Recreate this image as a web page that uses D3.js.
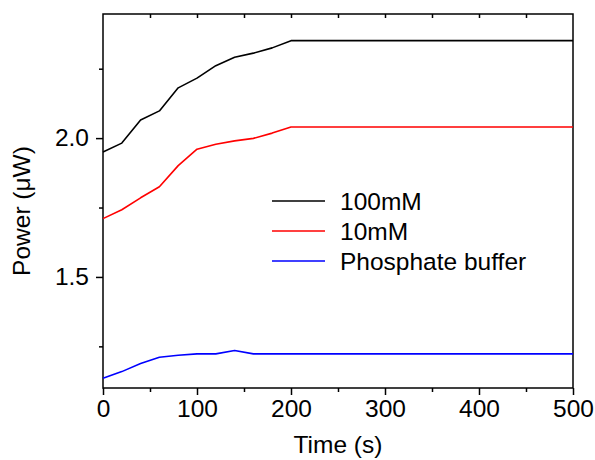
<!DOCTYPE html>
<html>
<head>
<meta charset="utf-8">
<script src="https://cdn.jsdelivr.net/npm/d3@7"></script>
<style>
  body { margin: 0; background: #fff; }
  text { font-family: Arial, "Liberation Sans", sans-serif; fill: #000; }
</style>
</head>
<body>
<div id="chart"></div>
<script>
const times = [0, 20, 40, 60, 80, 100, 120, 140, 160, 180, 200, 500];
const mM100 = [1.950, 1.982, 2.065, 2.098, 2.181, 2.216, 2.261, 2.291, 2.306, 2.325, 2.351, 2.351];
const mM10 = [1.710, 1.742, 1.785, 1.825, 1.901, 1.960, 1.978, 1.990, 1.999, 2.018, 2.040, 2.040];
const buffer = [1.135, 1.159, 1.188, 1.211, 1.218, 1.223, 1.223, 1.235, 1.223, 1.223, 1.223, 1.223];
const seriesNames = ["100mM", "10mM", "Phosphate buffer"];
const seriesColors = ["#000000", "#ff0000", "#0000ff"];
const xTicks = [0, 100, 200, 300, 400, 500];
const yTicks = [1.5, 2.0];

const W = 595, H = 460;
const margin = { top: 14, right: 22, bottom: 72, left: 103 };
const width = W - margin.left - margin.right;
const height = H - margin.top - margin.bottom;
const fs = 24.5;

const svg = d3.select("#chart").append("svg")
    .attr("width", W).attr("height", H);
const g = svg.append("g").attr("transform", `translate(${margin.left},${margin.top})`);

const x = d3.scaleLinear().domain([0, 500]).range([0, width]);
const y = d3.scaleLinear().domain([1.1, 2.447]).range([height, 0]);

// frame
g.append("rect").attr("width", width).attr("height", height)
    .attr("fill", "none").attr("stroke", "#000").attr("stroke-width", 1.5);

// bottom axis
g.append("g").attr("transform", `translate(0,${height})`)
    .call(d3.axisBottom(x).tickValues(xTicks).tickFormat(d3.format("d")).tickSize(7).tickPadding(5));
g.append("g").attr("transform", `translate(0,${height})`)
    .call(d3.axisBottom(x).tickValues(d3.range(50, 500, 100)).tickSize(4).tickFormat(""));
// top minor ticks (inward)
g.append("g")
    .call(d3.axisBottom(x).tickValues(d3.range(50, 500, 50)).tickSize(4).tickFormat(""));

// left axis
g.append("g")
    .call(d3.axisLeft(y).tickValues(yTicks).tickFormat(d3.format(".1f")).tickSize(7).tickPadding(7));
g.append("g")
    .call(d3.axisLeft(y).tickValues([1.25, 1.75, 2.25]).tickSize(4).tickFormat(""));

g.selectAll(".domain").remove();
g.selectAll(".tick line").attr("stroke", "#000").attr("stroke-width", 1.5);
g.selectAll(".tick text").attr("font-size", fs).attr("font-family", "Arial, 'Liberation Sans', sans-serif");

// lines
const allSeries = [mM100, mM10, buffer];
const line = d3.line().x((d, i) => x(times[i])).y(d => y(d));
allSeries.forEach((s, k) => {
  g.append("path").datum(s)
      .attr("fill", "none")
      .attr("stroke", seriesColors[k])
      .attr("stroke-width", 1.6)
      .attr("stroke-linejoin", "round")
      .attr("d", line);
});

// legend
const legend = svg.append("g").attr("transform", "translate(272,201)");
seriesNames.forEach((name, k) => {
  const row = legend.append("g").attr("transform", `translate(0,${k * 30})`);
  row.append("line").attr("x1", 0).attr("x2", 53).attr("y1", 0).attr("y2", 0)
      .attr("stroke", seriesColors[k]).attr("stroke-width", 1.6);
  row.append("text").attr("x", 68).attr("y", 8.5)
      .attr("font-size", fs).text(name);
});

// axis titles
svg.append("text")
    .attr("x", margin.left + width / 2).attr("y", 453)
    .attr("text-anchor", "middle").attr("font-size", fs)
    .text("Time (s)");

svg.append("text")
    .attr("transform", "translate(30,211) rotate(-90)")
    .attr("text-anchor", "middle").attr("font-size", fs)
    .text("Power (μW)");
</script>
</body>
</html>
